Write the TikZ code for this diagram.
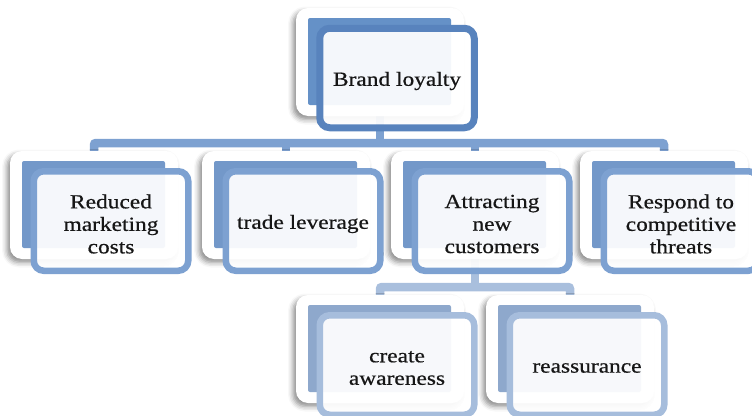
\documentclass[tikz,border=0pt]{standalone}
\usepackage{fontspec}
\setmainfont{Liberation Serif}[FakeStretch=1.17, FakeBold=0.6]
\usetikzlibrary{calc,shadows.blur}
\pgfdeclarelayer{background}
\pgfsetlayers{background,main}

\definecolor{frameA}{HTML}{5883BD}
\definecolor{backA}{HTML}{6591C7}
\definecolor{frameB}{HTML}{7DA1D1}
\definecolor{backB}{HTML}{7398C9}
\definecolor{frameC}{HTML}{A6BDDC}
\definecolor{backC}{HTML}{8EA8CC}
\definecolor{barA}{HTML}{7DA1D1}
\definecolor{barB}{HTML}{A9BFDD}
\definecolor{inkText}{HTML}{161616}

\tikzset{
  card/.style={fill=white, rounded corners=12pt, minimum width=168pt,
    minimum height=108pt, inner sep=0pt,
    blur shadow={shadow xshift=-3pt, shadow yshift=-3.5pt,
      shadow blur radius=5pt, shadow opacity=45}},
  backbox/.style={rounded corners=2pt, minimum width=143pt,
    minimum height=87pt, inner sep=0pt},
  backA/.style={backbox, fill=backA},
  backB/.style={backbox, fill=backB},
  backC/.style={backbox, fill=backC},
  frontbox/.style={rounded corners=10pt, fill=white, fill opacity=0.93,
    line width=6.5pt, minimum width=154.5pt, minimum height=99.5pt,
    inner sep=0pt},
  frontA/.style={frontbox, draw=frameA, line width=7pt},
  frontB/.style={frontbox, draw=frameB},
  frontC/.style={frontbox, draw=frameC},
  caption/.style={text=inkText, align=center, inner sep=0pt,
    font=\fontsize{20}{22.5}\selectfont},
  barA/.style={draw=barA, line width=8.5pt, rounded corners=2pt},
  barB/.style={draw=barB, line width=8.5pt, rounded corners=2pt},
}

% card: white shadowed plate, solid back panel, translucent framed front
\newcommand{\tiercard}[4]{%
  \node[card] (#1c) at (#2) {};
  \node[back#3] (#1b) at ($(#1c)+(-0.5,-0.5)$) {};
  \node[front#3] (#1) at ($(#1c)+(17,16)$) {};
  \node[caption] (#1t) at ($(#1)+(0,3)$) {#4};
}

\begin{document}
\begin{tikzpicture}[x=1pt, y=-1pt]
  \useasboundingbox (0,0) rectangle (752,415);

  % top level
  \tiercard{bl}{380,62}{A}{Brand loyalty}

  % second level
  \tiercard{rm}{94,205}{B}{Reduced\\marketing\\costs}
  \tiercard{tl}{286,205}{B}{trade leverage}
  \tiercard{an}{475,205}{B}{Attracting\\new\\customers}
  \tiercard{rp}{664,205}{B}{Respond to\\competitive\\threats}

  % third level
  \tiercard{ca}{380,349}{C}{create\\awareness}
  \tiercard{ra}{570,349}{C}{reassurance}

  % junctions of the branching bars
  \coordinate (j1) at (380,143);
  \coordinate (j2) at (475,287);

  \begin{pgfonlayer}{background}
    \draw[barA] (rmc.north) |- (j1) -| (rpc.north);
    \draw[barA] (j1 -| tlc) -- (tlc.north);
    \draw[barA] (j1 -| anc) -- (anc.north);
    \draw[barA] (blc) -- (j1);

    \draw[barB] (cac.north) |- (j2) -| (rac.north);
    \draw[barB] (anc) -- (j2);
  \end{pgfonlayer}
\end{tikzpicture}
\end{document}
